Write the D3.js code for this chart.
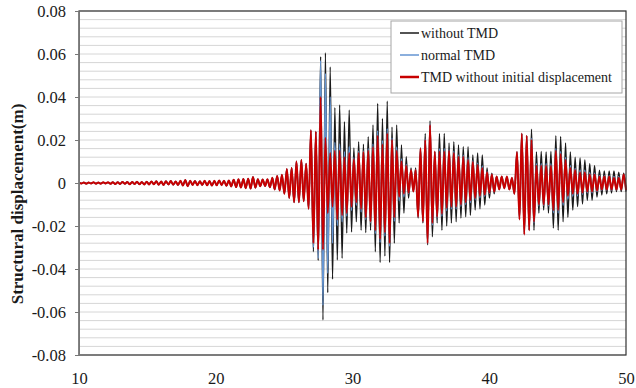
<!DOCTYPE html>
<html>
<head>
<meta charset="utf-8">
<script src="https://cdn.jsdelivr.net/npm/d3@7"></script>
<style>
  body { margin: 0; background: #fff; }
  text { font-family: "Liberation Serif", "Times New Roman", serif; }
</style>
</head>
<body>
<div id="chart"></div>
<script>
// Time of each read-off peak / trough (s)
const times = [
  10.00, 10.18, 10.35, 10.53, 10.71, 10.88, 11.06, 11.24, 11.41, 11.59,
  11.77, 11.94, 12.12, 12.30, 12.47, 12.65, 12.83, 13.00, 13.18, 13.36,
  13.53, 13.71, 13.89, 14.06, 14.24, 14.42, 14.59, 14.77, 14.95, 15.12,
  15.30, 15.48, 15.65, 15.83, 16.01, 16.18, 16.36, 16.54, 16.71, 16.89,
  17.07, 17.24, 17.42, 17.60, 17.77, 17.95, 18.13, 18.30, 18.48, 18.66,
  18.84, 19.01, 19.19, 19.37, 19.54, 19.72, 19.90, 20.07, 20.25, 20.43,
  20.60, 20.78, 20.96, 21.13, 21.31, 21.49, 21.66, 21.84, 22.02, 22.19,
  22.37, 22.55, 22.72, 22.90, 23.08, 23.25, 23.43, 23.61, 23.78, 23.96,
  24.14, 24.31, 24.49, 24.67, 24.84, 25.02, 25.20, 25.37, 25.55, 25.73,
  25.90, 26.08, 26.26, 26.43, 26.61, 26.79, 26.96, 27.14, 27.32, 27.49,
  27.67, 27.84, 28.02, 28.19, 28.37, 28.54, 28.71, 28.89, 29.06, 29.24,
  29.41, 29.58, 29.76, 29.93, 30.10, 30.28, 30.45, 30.63, 30.80, 30.97,
  31.15, 31.32, 31.50, 31.67, 31.84, 32.02, 32.19, 32.37, 32.54, 32.71,
  32.89, 33.06, 33.23, 33.41, 33.58, 33.76, 33.93, 34.10, 34.28, 34.45,
  34.62, 34.80, 34.97, 35.15, 35.32, 35.49, 35.67, 35.84, 36.02, 36.19,
  36.36, 36.54, 36.71, 36.89, 37.06, 37.23, 37.41, 37.58, 37.75, 37.93,
  38.10, 38.28, 38.45, 38.62, 38.80, 38.97, 39.15, 39.32, 39.49, 39.67,
  39.84, 40.01, 40.19, 40.36, 40.54, 40.73, 40.91, 41.10, 41.29, 41.47,
  41.66, 41.84, 42.03, 42.21, 42.38, 42.56, 42.74, 42.92, 43.09, 43.27,
  43.45, 43.63, 43.80, 43.98, 44.16, 44.33, 44.51, 44.69, 44.87, 45.04,
  45.22, 45.40, 45.58, 45.75, 45.93, 46.11, 46.28, 46.46, 46.64, 46.82,
  46.99, 47.17, 47.35, 47.52, 47.70, 47.88, 48.06, 48.23, 48.41, 48.59,
  48.77, 48.94, 49.12, 49.30, 49.47, 49.65, 49.83, 50.00
];

// Before ~27 s the three responses overlap
const quietResponse = [
  0, -0.0002, 0.0002, -0.0003, 0.0002, -0.0002, 0.0003, -0.0003, 0.0002, -0.0003,
  0.0003, -0.0002, 0.0003, -0.0004, 0.0004, -0.0005, 0.0004, -0.0005, 0.0005, -0.0004,
  0.0005, -0.0006, 0.0005, -0.0005, 0.0006, -0.0006, 0.0005, -0.0007, 0.0006, -0.0007,
  0.0007, -0.0006, 0.0008, -0.0008, 0.0007, -0.0009, 0.0008, -0.0007, 0.0009, -0.0008,
  0.0007, -0.0009, 0.0010, -0.0012, 0.0014, -0.0015, 0.0011, -0.0009, 0.0009, -0.0010,
  0.0008, -0.0009, 0.0010, -0.0011, 0.0009, -0.0012, 0.0010, -0.0011, 0.0012, -0.0010,
  0.0011, -0.0013, 0.0012, -0.0016, 0.0015, -0.0019, 0.0017, -0.0021, 0.0019, -0.0024,
  0.0020, -0.0026, 0.0028, -0.0022, 0.0018, -0.0015, 0.0016, -0.0014, 0.0017, -0.0020,
  0.0024, -0.0030, 0.0033, -0.0035, 0.0038, -0.0050, 0.0065, -0.0070, 0.0070, -0.0090,
  0.0100, -0.0090, 0.0107, -0.0085, 0.0090, -0.0120
];

const withoutTMD = quietResponse.concat([
  0.0246, -0.032, 0.024, -0.036, 0.0588, -0.0637, 0.0606, -0.051, 0.054, -0.0447,
  0.035, -0.0358, 0.0363, -0.035, 0.0285, -0.0233, 0.034, -0.0228, 0.0163, -0.018,
  0.0192, -0.022, 0.018, -0.023, 0.0215, -0.022, 0.027, -0.032, 0.037, -0.037,
  0.030, -0.034, 0.038, -0.037, 0.026, -0.028, 0.027, -0.0186, 0.0177, -0.014,
  0.0122, -0.007, 0.007, -0.004, 0.007, -0.0163, 0.0163, -0.0186, 0.023, -0.0288,
  0.029, -0.025, 0.0146, -0.0186, 0.023, -0.022, 0.023, -0.020, 0.0186, -0.0186,
  0.0192, -0.018, 0.0177, -0.0163, 0.0169, -0.0157, 0.0169, -0.015, 0.013, -0.0126,
  0.014, -0.012, 0.013, -0.0102, 0.007, -0.007, 0.0046, -0.005, 0.003, -0.003,
  0.003, -0.002, 0.0025, -0.003, 0.002, -0.005, 0.0144, -0.016, 0.023, -0.023,
  0.022, -0.022, 0.025, -0.022, 0.0144, -0.014, 0.0147, -0.0126, 0.0144, -0.014,
  0.0147, -0.021, 0.022, -0.022, 0.0216, -0.018, 0.0186, -0.016, 0.0144, -0.0126,
  0.012, -0.011, 0.0116, -0.0098, 0.0107, -0.008, 0.009, -0.008, 0.008, -0.0065,
  0.006, -0.0056, 0.0056, -0.005, 0.0056, -0.0047, 0.0056, -0.004, 0.005, -0.004,
  0.0046, -0.004
]);

const normalTMD = quietResponse.concat([
  0.0246, -0.030, 0.024, -0.035, 0.057, -0.057, 0.051, -0.042, 0.040, -0.028,
  0.019, -0.0198, 0.0182, -0.018, 0.0145, -0.0154, 0.017, -0.0128, 0.0118, -0.0104,
  0.0148, -0.0135, 0.0149, -0.017, 0.016, -0.0186, 0.0182, -0.0235, 0.0243, -0.0277,
  0.0198, -0.0247, 0.0253, -0.0294, 0.0209, -0.0178, 0.0168, -0.0082, 0.0112, -0.0064,
  0.0086, -0.0049, 0.0062, -0.004, 0.0062, -0.0158, 0.016, -0.0181, 0.0205, -0.0281,
  0.0273, -0.0196, 0.0146, -0.0161, 0.0159, -0.0155, 0.0159, -0.0129, 0.0155, -0.0121,
  0.0148, -0.0121, 0.013, -0.0109, 0.0129, -0.010, 0.0116, -0.0091, 0.0103, -0.0078,
  0.0092, -0.0069, 0.0079, -0.0062, 0.0053, -0.0049, 0.0041, -0.0042, 0.003, -0.003,
  0.003, -0.0025, 0.003, -0.003, 0.0025, -0.005, 0.0144, -0.017, 0.023, -0.024,
  0.022, -0.022, 0.0208, -0.0186, 0.009, -0.0106, 0.009, -0.0104, 0.009, -0.0106,
  0.009, -0.0139, 0.016, -0.014, 0.0147, -0.0104, 0.0119, -0.0075, 0.0081, -0.0061,
  0.0069, -0.0059, 0.006, -0.0053, 0.0059, -0.0046, 0.0048, -0.0046, 0.0046, -0.004,
  0.0035, -0.0034, 0.0034, -0.0033, 0.0034, -0.0033, 0.003, -0.0032, 0.003, -0.0032,
  0.004, -0.0034
]);

const tmdNoInitial = quietResponse.concat([
  0.0246, -0.028, 0.024, -0.031, 0.040, -0.031, 0.021, -0.014, 0.014, -0.011,
  0.015, -0.017, 0.015, -0.015, 0.012, -0.014, 0.014, -0.011, 0.011, -0.009,
  0.014, -0.012, 0.0144, -0.016, 0.015, -0.018, 0.0167, -0.022, 0.022, -0.026,
  0.018, -0.023, 0.023, -0.028, 0.020, -0.016, 0.015, -0.0064, 0.010, -0.005,
  0.008, -0.0045, 0.006, -0.004, 0.006, -0.0157, 0.016, -0.018, 0.020, -0.028,
  0.027, -0.0186, 0.0146, -0.0157, 0.0146, -0.0143, 0.0146, -0.0116, 0.015, -0.011,
  0.014, -0.011, 0.0122, -0.010, 0.0122, -0.009, 0.0107, -0.008, 0.0098, -0.007,
  0.0084, -0.006, 0.007, -0.0055, 0.005, -0.0045, 0.004, -0.004, 0.003, -0.003,
  0.003, -0.0025, 0.003, -0.003, 0.0025, -0.005, 0.0144, -0.017, 0.023, -0.024,
  0.022, -0.022, 0.020, -0.018, 0.008, -0.010, 0.008, -0.010, 0.008, -0.010,
  0.008, -0.0126, 0.015, -0.0126, 0.0135, -0.009, 0.0107, -0.006, 0.007, -0.005,
  0.006, -0.005, 0.005, -0.0045, 0.005, -0.004, 0.004, -0.004, 0.004, -0.0035,
  0.003, -0.003, 0.003, -0.003, 0.003, -0.003, 0.0025, -0.003, 0.0025, -0.003,
  0.004, -0.0033
]);

const xTicks = [10, 20, 30, 40, 50];
const yTicks = [-0.08, -0.06, -0.04, -0.02, 0, 0.02, 0.04, 0.06, 0.08];
const seriesNames = ['without TMD', 'normal TMD', 'TMD without initial displacement'];
const seriesColors = ['#1a1a1a', '#6595d2', '#c80000'];
const seriesWidths = [1.4, 1.4, 2.0];

const serif = '"Liberation Serif", "Times New Roman", serif';

// Chart size
const width = 636;
const height = 388;
const margin = { top: 11, right: 10, bottom: 33, left: 79 };
const innerW = width - margin.left - margin.right;
const innerH = height - margin.top - margin.bottom;

const svg = d3.select('#chart')
  .append('svg')
  .attr('width', width)
  .attr('height', height);

const g = svg.append('g')
  .attr('transform', `translate(${margin.left},${margin.top})`);

const xScale = d3.scaleLinear().domain([10, 50]).range([0, innerW]);
const yScale = d3.scaleLinear().domain([-0.08, 0.08]).range([innerH, 0]);

// Horizontal gridlines every 0.004
const gridValues = d3.range(-20, 21).map(i => i * 0.004);
g.append('g')
  .selectAll('line')
  .data(gridValues)
  .enter()
  .append('line')
  .attr('x1', 0)
  .attr('x2', innerW)
  .attr('y1', d => yScale(d))
  .attr('y2', d => yScale(d))
  .attr('stroke', '#d6d6d6')
  .attr('stroke-width', 1);

// Lines
const lineData = [withoutTMD, normalTMD, tmdNoInitial];
const line = d3.line()
  .x((d, i) => xScale(times[i]))
  .y(d => yScale(d))
  .curve(d3.curveMonotoneX);

lineData.forEach((vals, s) => {
  g.append('path')
    .datum(vals)
    .attr('fill', 'none')
    .attr('stroke', seriesColors[s])
    .attr('stroke-width', seriesWidths[s])
    .attr('stroke-linejoin', 'round')
    .attr('d', line);
});

// Frame
g.append('rect')
  .attr('x', 0)
  .attr('y', 0)
  .attr('width', innerW)
  .attr('height', innerH)
  .attr('fill', 'none')
  .attr('stroke', '#333')
  .attr('stroke-width', 1.2);

// Y axis
const yAxis = d3.axisLeft(yScale)
  .tickValues(yTicks)
  .tickSize(4)
  .tickPadding(9)
  .tickFormat(d => d === 0 ? '0' : d.toFixed(2));

g.append('g')
  .call(yAxis)
  .attr('font-family', serif)
  .call(a => a.select('.domain').attr('stroke', '#777'))
  .call(a => a.selectAll('line').attr('stroke', '#777'))
  .selectAll('text')
  .attr('dy', '0.33em')
  .style('font-size', '16.5px')
  .attr('fill', '#1a1a1a');

// X axis
const xAxis = d3.axisBottom(xScale)
  .tickValues(xTicks)
  .tickSize(0)
  .tickPadding(17)
  .tickFormat(d3.format('d'));

g.append('g')
  .attr('transform', `translate(0,${innerH})`)
  .call(xAxis)
  .attr('font-family', serif)
  .call(a => a.select('.domain').remove())
  .selectAll('text')
  .style('font-size', '16.5px')
  .attr('fill', '#1a1a1a');

// Y axis title
svg.append('text')
  .attr('transform', 'rotate(-90)')
  .attr('x', -204)
  .attr('y', 23)
  .attr('text-anchor', 'middle')
  .style('font-size', '17px')
  .style('font-weight', 'bold')
  .attr('fill', '#1a1a1a')
  .text('Structural displacement(m)');

// Legend
const legend = svg.append('g')
  .attr('transform', 'translate(391,21)');

legend.append('rect')
  .attr('width', 231)
  .attr('height', 72)
  .attr('fill', '#fff')
  .attr('stroke', '#a6a6a6')
  .attr('stroke-width', 1);

seriesNames.forEach((name, i) => {
  legend.append('line')
    .attr('x1', 9)
    .attr('x2', 28)
    .attr('y1', 12 + i * 22)
    .attr('y2', 12 + i * 22)
    .attr('stroke', seriesColors[i])
    .attr('stroke-width', i === 2 ? 2.5 : 1.5);

  legend.append('text')
    .attr('x', 30)
    .attr('y', 12 + i * 22)
    .attr('dy', '0.33em')
    .style('font-size', '14px')
    .attr('fill', '#1a1a1a')
    .text(name);
});
</script>
</body>
</html>
